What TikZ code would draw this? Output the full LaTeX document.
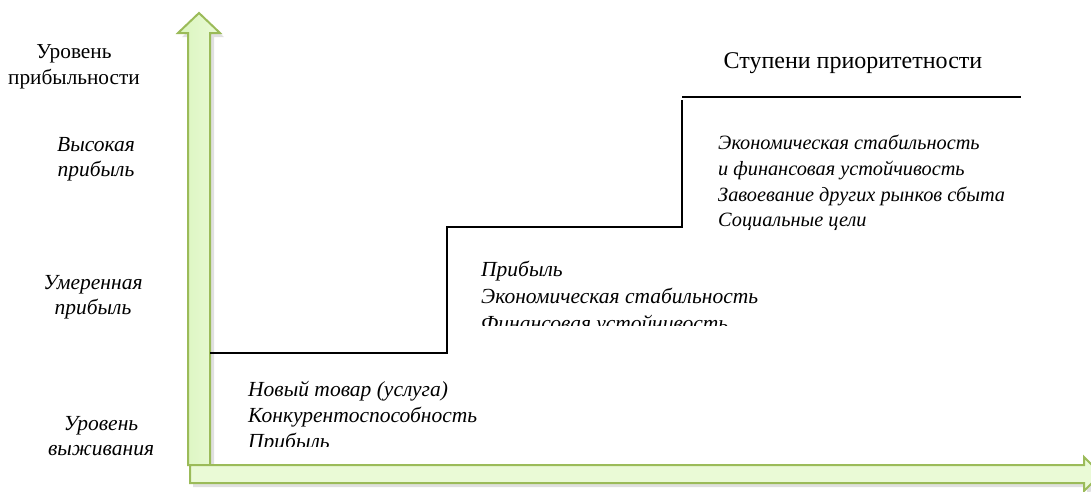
\documentclass[tikz,border=0pt]{standalone}
\usepackage{fontspec}
\setmainfont{Liberation Serif}
\usetikzlibrary{positioning}
\definecolor{arrowline}{RGB}{155,187,89}
\definecolor{arrowfill}{RGB}{234,250,214}
\definecolor{shaftfill}{RGB}{218,245,190}

\begin{document}
\begin{tikzpicture}[%
    x=1pt, y=-1pt,
    axisarrow/.style={draw=arrowline, line width=2pt, line join=miter},
    axisshadow/.style={fill=black, opacity=0.12},
    stepline/.style={draw=black, line width=2pt},
    itemtext/.style={anchor=north west, align=left, inner sep=0pt, font=\fontsize{21.5}{26}\selectfont\itshape},
    levelnode/.style={align=center, inner sep=0pt, font=\fontsize{21.5}{25}\selectfont\itshape},
    title/.style={align=center, inner sep=0pt, font=\fontsize{21.3}{26}\selectfont}
]
\useasboundingbox (0,0) rectangle (1091,491);

% axes
\fill[axisshadow] (192,469) -- (192,37) -- (182,37) -- (203,17) -- (224,37) -- (214,37) -- (214,469) -- cycle;
\path[axisarrow, left color=shaftfill, right color=arrowfill] (188,465) -- (188,33) -- (178,33) -- (199,13) -- (220,33) -- (210,33) -- (210,465) -- cycle;
\fill[axisshadow] (193,469) -- (1087,469) -- (1087,461) -- (1104,478) -- (1087,495) -- (1087,487) -- (193,487) -- cycle;
\path[axisarrow, fill=arrowfill] (190,465) -- (1084,465) -- (1084,457) -- (1101,474) -- (1084,491) -- (1084,483) -- (190,483) -- cycle;

% steps
\coordinate (s0) at (210,353);
\coordinate (s1) at (447,353);
\coordinate (s2) at (447,227);
\coordinate (s3) at (682,227);
\coordinate (s4) at (682,100);
\draw[stepline] (s0) -- (s1) -- (s2) -- (s3) -- (s4);
\draw[stepline] (682,97) -- (1021,97);

% step contents
\begin{scope}
\clip (240,370) rectangle (560,446);
\node[itemtext] (survival) at (248,381) {Новый товар (услуга)\\Конкурентоспособность\\Прибыль};
\end{scope}
\begin{scope}
\clip (470,250) rectangle (800,325);
\node[itemtext, font=\fontsize{21.5}{27}\selectfont\itshape] (moderate) at (481,261) {Прибыль\\Экономическая стабильность\\Финансовая устойчивость};
\end{scope}
\node[itemtext, font=\fontsize{20.3}{25.7}\selectfont\itshape] (high) at (718,135) {Экономическая стабильность\\и финансовая устойчивость\\Завоевание других рынков сбыта\\Социальные цели};

% titles
\node[title, font=\fontsize{24}{28}\selectfont] (steptitle) at (853,63) {Ступени приоритетности};
\node[title] (leveltitle) at (74,67) {Уровень\\прибыльности};

% profit levels
\node[levelnode] (highlevel) at (96,159) {Высокая\\прибыль};
\node[levelnode] (moderatelevel) at (93,297) {Умеренная\\прибыль};
\node[levelnode] (survivallevel) at (101,436) {Уровень\\выживания};

\end{tikzpicture}
\end{document}
